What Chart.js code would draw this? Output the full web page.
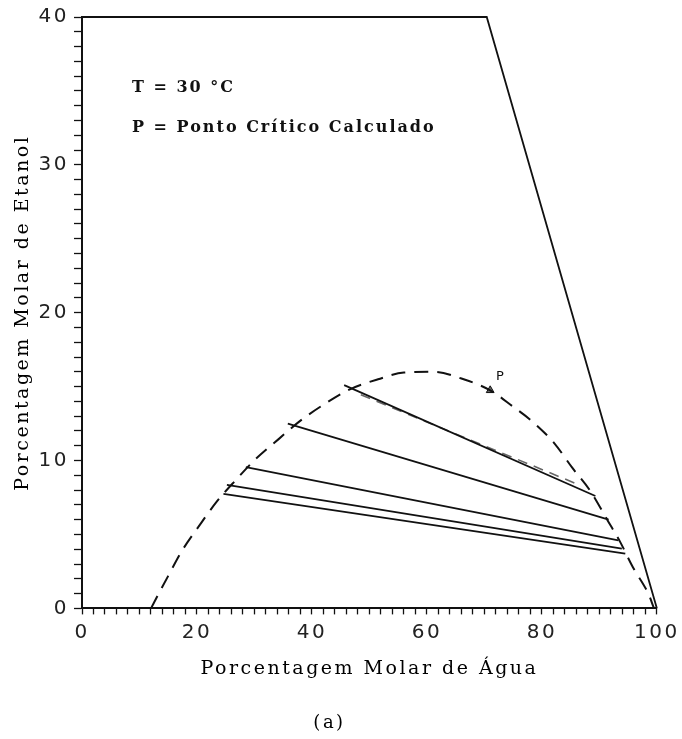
<!DOCTYPE html>
<html><head><meta charset="utf-8">
<script src="https://cdn.jsdelivr.net/npm/chart.js@4.4.1/dist/chart.umd.min.js"></script>
<style>html,body{margin:0;padding:0;background:#fff;}</style>
</head><body>
<canvas id="c" width="682" height="739"></canvas>
<script>
// Binodal curve (dashed)
const binodalX = [12.0, 13.2, 15.0, 17.4, 20.4, 23.4, 26.8, 30.2, 34.2, 38.0, 42.1, 46.5, 51.5, 56.0, 61.3, 66.0, 71.0, 74.8, 78.6, 82.2, 85.2, 88.4, 91.5, 93.6, 95.8, 98.5, 99.5];
const binodalY = [0.0, 0.9, 2.2, 3.9, 5.6, 7.2, 8.7, 10.1, 11.45, 12.7, 13.8, 14.8, 15.5, 15.95, 16.0, 15.55, 14.75, 13.7, 12.55, 11.15, 9.55, 7.95, 5.9, 4.5, 2.8, 1.0, 0.0];
// Tie lines (solid): left end / right end
const tieLeftX  = [45.6, 35.8, 28.5, 25.2, 24.6];
const tieLeftY  = [15.1, 12.5, 9.55, 8.35, 7.75];
const tieRightX = [89.3, 91.6, 93.3, 93.9, 94.5];
const tieRightY = [7.6, 6.0, 4.6, 4.05, 3.7];
// Calculated tie line (dashed)
const calcTieX = [48.5, 86.5];
const calcTieY = [14.45, 8.35];
// Diagram boundary
const boundaryX = [0, 70.4, 100];
const boundaryY = [40, 40, 0];
// Critical point P
const criticalX = [71.0];
const criticalY = [14.75];
// Texts
const xTitle = 'Porcentagem Molar de Água';
const yTitle = 'Porcentagem Molar de Etanol';
const caption = '(a)';
const noteLines = ['T = 30 °C', 'P = Ponto Crítico Calculado'];
const pointLabel = 'P';

const pts = (xs, ys) => xs.map((x, i) => ({x, y: ys[i]}));
const INK = '#111';

const datasets = [];
datasets.push({label:'boundary', data: pts(boundaryX, boundaryY), showLine:true, borderColor:INK, borderWidth:1.8, pointRadius:0, clip:false});
datasets.push({label:'binodal', data: pts(binodalX, binodalY), showLine:true, borderColor:INK, borderWidth:2, borderDash:[14,9], pointRadius:0, cubicInterpolationMode:'monotone', clip:false});
for (let i = 0; i < tieLeftX.length; i++) {
  datasets.push({label:'tie'+i, data:[{x:tieLeftX[i], y:tieLeftY[i]}, {x:tieRightX[i], y:tieRightY[i]}], showLine:true, borderColor:INK, borderWidth:1.8, pointRadius:0});
}
datasets.push({label:'calc', data: pts(calcTieX, calcTieY), showLine:true, borderColor:'#666', borderWidth:1.6, borderDash:[10,7], pointRadius:0});
datasets.push({label:'P', data: pts(criticalX, criticalY), showLine:false, pointStyle:'triangle', pointRadius:4.5, backgroundColor:'#666', borderColor:INK, borderWidth:1});

const spacingPlugin = {
  id:'spacing',
  beforeDraw(chart){ chart.ctx.letterSpacing = '2.5px'; },
  beforeDatasetsDraw(chart){ chart.ctx.letterSpacing = '0px'; },
  afterDatasetsDraw(chart){
    const {ctx, scales:{x, y}} = chart;
    ctx.save();
    ctx.fillStyle = INK;
    ctx.textBaseline = 'middle';
    ctx.textAlign = 'left';
    ctx.letterSpacing = '2px';
    ctx.font = 'bold 16px "DejaVu Serif"';
    ctx.fillText(noteLines[0], x.getPixelForValue(8.7), y.getPixelForValue(35.2));
    ctx.fillText(noteLines[1], x.getPixelForValue(8.7), y.getPixelForValue(32.5));
    ctx.letterSpacing = '0px';
    ctx.font = '13px "DejaVu Sans"';
    ctx.fillText(pointLabel, x.getPixelForValue(72.0), y.getPixelForValue(15.7));
    ctx.restore();
  }
};

new Chart(document.getElementById('c'), {
  type:'scatter',
  data:{datasets},
  plugins:[spacingPlugin],
  options:{
    responsive:false,
    animation:false,
    layout:{padding:{left:0, right:23, top:17, bottom:0}},
    plugins:{
      legend:{display:false},
      tooltip:{enabled:false},
      title:{display:true, text:caption, position:'bottom', color:'#000', font:{family:'DejaVu Serif', size:18, weight:'normal'}, padding:{top:0, bottom:5}}
    },
    scales:{
      x:{
        type:'linear', min:0, max:100,
        ticks:{stepSize:2, autoSkip:false, maxRotation:0, padding:6, color:'#222', font:{family:'DejaVu Sans', size:20},
          callback:(v)=> (Math.round(v)%20===0 ? String(Math.round(v)) : '')},
        grid:{drawOnChartArea:false, drawTicks:true, tickLength:6, tickColor:INK, tickWidth:1.3},
        border:{display:true, color:INK, width:2},
        title:{display:true, text:xTitle, color:'#000', font:{family:'DejaVu Serif', size:19}, padding:{top:0, bottom:32}},
        afterFit:(s)=>{ s.height = 104; }
      },
      y:{
        type:'linear', min:0, max:40,
        ticks:{stepSize:1, autoSkip:false, padding:5, color:'#222', font:{family:'DejaVu Sans', size:20},
          callback:(v)=> (Math.round(v)%10===0 ? String(Math.round(v)) : '')},
        grid:{drawOnChartArea:false, drawTicks:true, tickLength:8, tickColor:INK, tickWidth:1.3},
        border:{display:true, color:INK, width:2},
        title:{display:true, text:yTitle, color:'#000', font:{family:'DejaVu Serif', size:19}, padding:{top:12, bottom:0}},
        afterFit:(s)=>{ s.width = 82; }
      }
    }
  }
});
</script>
</body></html>
